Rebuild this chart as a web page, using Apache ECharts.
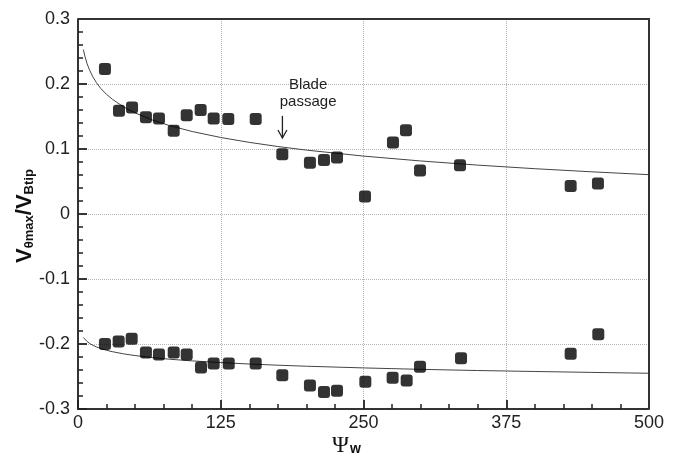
<!DOCTYPE html>
<html>
<head>
<meta charset="utf-8">
<script src="https://cdn.jsdelivr.net/npm/echarts@6/dist/echarts.min.js"></script>
<style>
html,body{margin:0;padding:0;background:#fff;}
#c{width:682px;height:465px;}
</style>
</head>
<body>
<div id="c"></div>
<script>
// ---- data ----
const xTicks = [0, 125, 250, 375, 500];
const yTicks = [-0.3, -0.2, -0.1, 0, 0.1, 0.2, 0.3];

const upperX = [23.6, 35.9, 47.3, 59.5, 70.9, 83.8, 95.2, 107.4, 118.8, 131.6, 155.6, 178.9, 203.1, 215.4, 226.8, 251.3, 275.8, 287.2, 299.5, 334.5, 431.4, 455.3];
const upperY = [0.223, 0.159, 0.164, 0.149, 0.147, 0.128, 0.152, 0.160, 0.147, 0.146, 0.146, 0.092, 0.079, 0.083, 0.087, 0.027, 0.110, 0.129, 0.067, 0.075, 0.043, 0.047];

const lowerX = [23.6, 35.6, 47.0, 59.5, 70.9, 83.8, 95.2, 107.7, 118.8, 132.0, 155.6, 178.9, 203.1, 215.4, 226.8, 251.6, 275.5, 287.8, 299.5, 335.4, 431.4, 455.6];
const lowerY = [-0.200, -0.196, -0.192, -0.213, -0.216, -0.213, -0.216, -0.236, -0.230, -0.230, -0.230, -0.248, -0.264, -0.274, -0.272, -0.258, -0.252, -0.256, -0.235, -0.222, -0.215, -0.185];

// fitted curves
const fitX      = [4.7, 6, 8, 10, 13, 16, 20, 25, 30, 40, 50, 65, 80, 100, 125, 150, 175, 200, 250, 300, 350, 400, 450, 500];
const fitUpperY = [0.253, 0.243, 0.231, 0.222, 0.211, 0.2025, 0.193, 0.184, 0.1766, 0.1647, 0.1555, 0.1447, 0.1361, 0.1269, 0.1177, 0.1102, 0.1038, 0.0983, 0.0891, 0.0816, 0.0752, 0.0697, 0.0649, 0.0605];
const fitLowerY = [-0.190, -0.1929, -0.1962, -0.1989, -0.2020, -0.2044, -0.2070, -0.2097, -0.2118, -0.2152, -0.2178, -0.2209, -0.2234, -0.2260, -0.2286, -0.2308, -0.2326, -0.2342, -0.2368, -0.2390, -0.2408, -0.2423, -0.2437, -0.2450];

const annotation = {text: 'Blade\npassage', arrowX: 179, arrowTop: 0.151, arrowBottom: 0.117, textX: 201.5, textTop: 0.211};

// ---- build ----
const zip = (a, b) => a.map((v, i) => [v, b[i]]);
const chart = echarts.init(document.getElementById('c'), null, {renderer: 'canvas'});
const axisColor = '#333';
const tickColor = '#222';
const labelFont = {fontFamily: 'Liberation Sans, Arial, sans-serif', fontSize: 18, color: '#222'};
const xMin = xTicks[0], xMax = xTicks[xTicks.length - 1];
const yMin = yTicks[0], yMax = yTicks[yTicks.length - 1];

const mainAxis = (extra) => Object.assign({
  type: 'value',
  axisLine: {show: true, onZero: false, lineStyle: {color: axisColor, width: 2}},
  axisTick: {show: true, inside: true, length: 9, lineStyle: {color: tickColor, width: 1.8}},
  minorTick: {show: true, splitNumber: 5, length: 5, lineStyle: {color: tickColor, width: 1.5}},
  splitLine: {show: true, lineStyle: {color: '#b5b5b5', type: 'dotted', width: 1}}
}, extra);

const option = {
  animation: false,
  grid: {left: 78, top: 19, right: 33, bottom: 56},
  xAxis: [
    mainAxis({min: xMin, max: xMax, interval: xTicks[1] - xTicks[0],
      axisLabel: Object.assign({margin: 5}, labelFont)})
  ],
  yAxis: [
    mainAxis({min: yMin, max: yMax, interval: 0.1,
      axisLabel: Object.assign({margin: 8, formatter: v => String(Math.round(v * 10) / 10)}, labelFont)})
  ],
  series: [
    {type: 'line', data: zip(fitX, fitUpperY), showSymbol: false, symbol: 'none', lineStyle: {color: '#444', width: 1}, z: 2},
    {type: 'line', data: zip(fitX, fitLowerY), showSymbol: false, symbol: 'none', lineStyle: {color: '#444', width: 1}, z: 2},
    {type: 'scatter', data: zip(upperX, upperY), symbol: 'roundRect', symbolSize: 12, itemStyle: {color: '#000'}, z: 3},
    {type: 'scatter', data: zip(lowerX, lowerY), symbol: 'roundRect', symbolSize: 12, itemStyle: {color: '#000'}, z: 3}
  ]
};
chart.setOption(option);

const p = (x, y) => chart.convertToPixel({xAxisIndex: 0, yAxisIndex: 0}, [x, y]);
const aTop = p(annotation.arrowX, annotation.arrowTop);
const aBot = p(annotation.arrowX, annotation.arrowBottom);
const tPos = p(annotation.textX, annotation.textTop);
const c0 = p(xMin, yMin), c1 = p(xMax, yMax);
const gx = c0[0], gy = c1[1], gw = c1[0] - c0[0], gh = c0[1] - c1[1];

chart.setOption({
  graphic: [
    // top and right frame lines
    {type: 'polyline', z: 5, shape: {points: [[gx, gy], [gx + gw, gy], [gx + gw, gy + gh]]}, style: {stroke: axisColor, lineWidth: 2, fill: null}},
    {type: 'text', x: tPos[0], y: tPos[1], z: 10,
     style: {text: annotation.text, align: 'center', verticalAlign: 'top', fontFamily: 'Liberation Sans, Arial, sans-serif', fontSize: 15, lineHeight: 17, fill: '#222'}},
    {type: 'line', z: 10, shape: {x1: aTop[0], y1: aTop[1], x2: aBot[0], y2: aBot[1]}, style: {stroke: '#222', lineWidth: 1.3}},
    {type: 'polyline', z: 10, shape: {points: [[aBot[0] - 4.5, aBot[1] - 8], [aBot[0], aBot[1]], [aBot[0] + 4.5, aBot[1] - 8]]}, style: {stroke: '#222', lineWidth: 1.3, fill: null}},
    // y axis title
    {type: 'text', x: 25, y: gy + gh / 2 + 2, rotation: Math.PI / 2, z: 10,
     style: {
       text: '{v|V}{s|θmax}{v|/V}{s|Btip}',
       align: 'center', verticalAlign: 'middle', fill: '#111',
       rich: {
         v: {fontFamily: 'Liberation Sans, Arial, sans-serif', fontWeight: 'bold', fontSize: 22, lineHeight: 22, verticalAlign: 'top', fill: '#111'},
         s: {fontFamily: 'Liberation Sans, Arial, sans-serif', fontWeight: 'bold', fontSize: 13, lineHeight: 13, verticalAlign: 'bottom', fill: '#111', padding: [12, 0, 0, 0]}
       }
     }},
    // x axis title
    {type: 'text', x: gx + gw / 2 - 17, y: 445, z: 10,
     style: {
       text: '{p|Ψ}{w|w}',
       align: 'center', verticalAlign: 'middle', fill: '#111',
       rich: {
         p: {fontFamily: 'Liberation Serif, Times New Roman, serif', fontSize: 23, lineHeight: 22, verticalAlign: 'top', fill: '#111'},
         w: {fontFamily: 'Liberation Sans, Arial, sans-serif', fontWeight: 'bold', fontSize: 14, lineHeight: 13, verticalAlign: 'bottom', fill: '#111', padding: [12, 0, 0, 1]}
       }
     }}
  ]
});
</script>
</body>
</html>
